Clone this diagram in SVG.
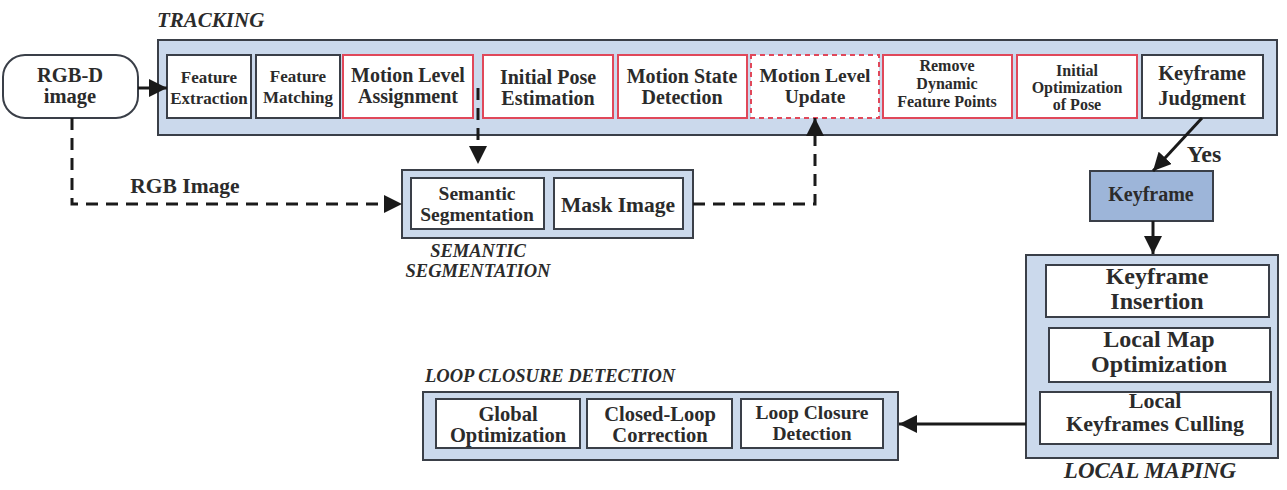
<svg xmlns="http://www.w3.org/2000/svg" width="1287" height="490" viewBox="0 0 1287 490">
<defs>
<marker id="ah" viewBox="0 0 10 10" refX="10" refY="5" markerWidth="6" markerHeight="6" markerUnits="strokeWidth" orient="auto">
<path d="M0,0 L10,5 L0,10 z" fill="#1a1a1a"/>
</marker>
</defs>
<style>
.cont{fill:#cbd9ec;stroke:#3a3f48;stroke-width:2}
.box{fill:#ffffff;stroke:#3a3f48;stroke-width:2}
.red{fill:#ffffff;stroke:#e0485a;stroke-width:2}
.reddash{fill:#ffffff;stroke:#e0485a;stroke-width:2;stroke-dasharray:5 4}
.kf{fill:#9db5d9;stroke:#3a3f48;stroke-width:2}
text{font-family:"Liberation Serif","Times New Roman",serif;font-weight:bold;fill:#2b2b2b;text-anchor:middle}
.sec{font-style:italic;text-anchor:start}
.solid{fill:none;stroke:#1a1a1a;stroke-width:3}
.dash{fill:none;stroke:#1a1a1a;stroke-width:3;stroke-dasharray:12 8}
</style>
<rect width="1287" height="490" fill="#ffffff"/>

<!-- section labels -->
<text class="sec" x="157" y="27" font-size="21">TRACKING</text>
<text class="sec" x="425" y="382" font-size="18.5">LOOP CLOSURE DETECTION</text>
<text style="font-style:italic" x="478" y="257" font-size="18.5">SEMANTIC</text>
<text style="font-style:italic" x="478" y="277" font-size="18.5">SEGMENTATION</text>
<text style="font-style:italic" x="1150" y="478" font-size="23">LOCAL MAPING</text>

<!-- containers -->
<g id="tracking">
<rect class="cont" x="158" y="40" width="1119" height="95"/>
</g>
<g id="semantic-container">
<rect class="cont" x="402" y="170" width="291" height="68"/>
</g>
<g id="loop-container">
<rect class="cont" x="423" y="392" width="475" height="68"/>
</g>
<g id="localmap-container">
<rect class="cont" x="1026" y="255" width="252" height="203"/>
</g>

<!-- RGB-D -->
<g id="rgbd">
<rect class="box" x="3" y="55" width="135" height="63" rx="22" ry="22"/>
<text x="70" y="82" font-size="20.5">RGB-D</text>
<text x="70" y="103" font-size="20.5">image</text>
</g>

<!-- tracking nodes -->
<g id="feature-extraction">
<rect class="box" x="167" y="55" width="84" height="63"/>
<text x="209" y="83" font-size="17">Feature</text>
<text x="209" y="104" font-size="17">Extraction</text>
</g>
<g id="feature-matching">
<rect class="box" x="256" y="55" width="84" height="63"/>
<text x="298" y="82" font-size="17">Feature</text>
<text x="298" y="103" font-size="17">Matching</text>
</g>
<g id="motion-level-assignment">
<rect class="red" x="343" y="55" width="130" height="63"/>
<text x="408" y="82" font-size="20">Motion Level</text>
<text x="408" y="103" font-size="20">Assignment</text>
</g>
<g id="initial-pose-estimation">
<rect class="red" x="483" y="55" width="130" height="63"/>
<text x="548" y="84" font-size="20">Initial Pose</text>
<text x="548" y="105" font-size="20">Estimation</text>
</g>
<g id="motion-state-detection">
<rect class="red" x="618" y="55" width="129" height="63"/>
<text x="682" y="83" font-size="20">Motion State</text>
<text x="682" y="104" font-size="20">Detection</text>
</g>
<g id="motion-level-update">
<rect class="reddash" x="751" y="55" width="128" height="63"/>
<text x="815" y="82" font-size="19.5">Motion Level</text>
<text x="815" y="103" font-size="19.5">Update</text>
</g>
<g id="remove-dynamic">
<rect class="red" x="883" y="55" width="129" height="63"/>
<text x="947" y="71" font-size="16">Remove</text>
<text x="947" y="89" font-size="16">Dynamic</text>
<text x="947" y="107" font-size="16">Feature Points</text>
</g>
<g id="initial-optimization">
<rect class="red" x="1017" y="55" width="120" height="63"/>
<text x="1077" y="76" font-size="16">Initial</text>
<text x="1077" y="93" font-size="16">Optimization</text>
<text x="1077" y="110" font-size="16">of Pose</text>
</g>
<g id="keyframe-judgment">
<rect class="box" x="1142" y="55" width="121" height="63"/>
<text x="1202" y="80" font-size="20.5">Keyframe</text>
<text x="1202" y="105" font-size="20.5">Judgment</text>
</g>

<!-- keyframe -->
<g id="keyframe">
<rect class="kf" x="1090" y="171" width="123" height="50"/>
<text x="1151" y="201" font-size="20">Keyframe</text>
</g>

<!-- semantic nodes -->
<g id="semantic-segmentation">
<rect class="box" x="411" y="178" width="133" height="51"/>
<text x="477" y="200" font-size="19.5">Semantic</text>
<text x="477" y="221" font-size="19.5">Segmentation</text>
</g>
<g id="mask-image">
<rect class="box" x="554" y="178" width="129" height="51"/>
<text x="618" y="212" font-size="21.5">Mask Image</text>
</g>

<!-- local mapping nodes -->
<g id="keyframe-insertion">
<rect class="box" x="1046" y="265" width="223" height="52"/>
<text x="1157" y="284" font-size="24">Keyframe</text>
<text x="1157" y="309" font-size="24">Insertion</text>
</g>
<g id="local-map-optimization">
<rect class="box" x="1049" y="328" width="221" height="54"/>
<text x="1159" y="347" font-size="24">Local Map</text>
<text x="1159" y="372" font-size="24">Optimization</text>
</g>
<g id="local-keyframes-culling">
<rect class="box" x="1040" y="392" width="231" height="52"/>
<text x="1155" y="408" font-size="22">Local</text>
<text x="1155" y="431" font-size="22">Keyframes Culling</text>
</g>

<!-- loop closure nodes -->
<g id="global-optimization">
<rect class="box" x="436" y="399" width="144" height="49"/>
<text x="508" y="421" font-size="20.5">Global</text>
<text x="508" y="442" font-size="20.5">Optimization</text>
</g>
<g id="closed-loop-correction">
<rect class="box" x="587" y="399" width="145" height="49"/>
<text x="660" y="421" font-size="20.5">Closed-Loop</text>
<text x="660" y="442" font-size="20.5">Correction</text>
</g>
<g id="loop-closure-detection">
<rect class="box" x="741" y="399" width="142" height="49"/>
<text x="812" y="419" font-size="19.5">Loop Closure</text>
<text x="812" y="440" font-size="19.5">Detection</text>
</g>

<!-- connectors -->
<g id="connectors">
<path class="solid" d="M138,88 L167,88" marker-end="url(#ah)"/>
<path class="solid" d="M1202,118 L1153,171" marker-end="url(#ah)"/>
<path class="solid" d="M1153,221 L1153,254" marker-end="url(#ah)"/>
<path class="solid" d="M1026,424 L899,424" marker-end="url(#ah)"/>
<path class="dash" d="M72,118 L72,204 L402,204" marker-end="url(#ah)"/>
<path class="dash" d="M478,88 L478,164" marker-end="url(#ah)"/>
<path class="dash" d="M693,204 L815,204 L815,118" marker-end="url(#ah)"/>
<text x="185" y="193" font-size="21.5">RGB Image</text>
<text x="1204" y="162" font-size="24">Yes</text>
</g>
</svg>
